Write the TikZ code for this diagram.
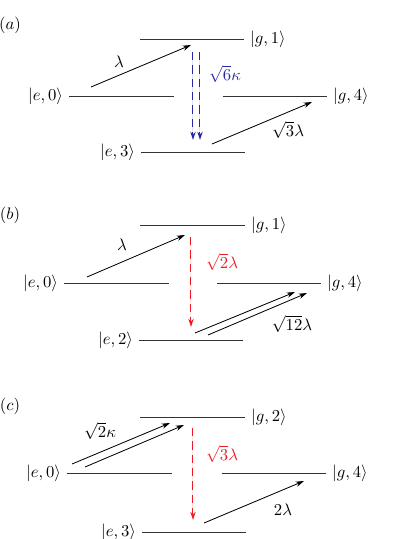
\documentclass[tikz,border=0pt]{standalone}
\usetikzlibrary{arrows.meta}
\definecolor{decayblue}{RGB}{40,40,165}
\definecolor{decayred}{RGB}{237,28,36}
\makeatletter
\newcommand\enlevel{}
\newcommand\enlevel@aux{}
\newcommand\enlevel@noaux{}
\def\enlevel{%
  \@ifnextchar[\enlevel@aux\enlevel@noaux
}
\def\enlevel@noaux{%
  \enlevel@aux[right]%
}
\def\enlevel@aux[#1]#2#3#4#5#6{%
  \coordinate (#2-l) at (#3,#5);
  \coordinate (#2-r) at (#4,#5);
  \draw[level] (#2-l) -- (#2-r);
  \def\temp@side{#1}\def\temp@left{left}%
  \ifx\temp@side\temp@left
    \node[left,inner sep=3.5pt] (#2-lab) at (#2-l) {#6};
  \else
    \node[right,inner sep=3.5pt] (#2-lab) at (#2-r) {#6};
  \fi
}
\makeatother

\begin{document}
\begin{tikzpicture}[
  x=0.6pt,
  y=-0.6pt,
  level/.style={
    line width=0.6pt,
    black!80
  },
  trans/.style={
    line width=0.5pt,
    -{Stealth[length=5pt,width=3.2pt]}
  },
  decay/.style={
    trans,
    line width=0.6pt,
    dash pattern=on 5pt off 3pt
  }
]
  \useasboundingbox (0,0) rectangle (415,539);

  \foreach \t/\y in {a/25,b/215,c/406}{
    \node (tag-\t) at (10,\y) {$(\t)$};
  }

  % (a)
  \enlevel{a-g1}{140}{244}{39}{$|g,1\rangle$}
  \enlevel[left]{a-e0}{69}{174}{96}{$|e,0\rangle$}
  \enlevel{a-g4}{223}{327}{96}{$|g,4\rangle$}
  \enlevel[left]{a-e3}{141}{245}{152}{$|e,3\rangle$}

  \coordinate (a-s1) at (91,87);
  \coordinate (a-t1) at (191,45);
  \draw[trans] (a-s1) -- (a-t1);
  \node (a-lam) at (119,62) {$\lambda$};

  \foreach \x in {193,200}{
    \coordinate (a-ds\x) at (\x,52);
    \coordinate (a-dt\x) at (\x,140);
    \draw[decay,draw=decayblue,fill=decayblue] (a-ds\x) -- (a-dt\x);
  }
  \node[text=decayblue] (a-kap) at (225,74) {$\sqrt{6}\kappa$};

  \coordinate (a-s2) at (212,144);
  \coordinate (a-t2) at (312,102);
  \draw[trans] (a-s2) -- (a-t2);
  \node (a-lam3) at (288,130) {$\sqrt{3}\lambda$};

  % (b)
  \enlevel{b-g1}{140}{245}{225}{$|g,1\rangle$}
  \enlevel[left]{b-e0}{64}{169}{283}{$|e,0\rangle$}
  \enlevel{b-g4}{217}{321}{283}{$|g,4\rangle$}
  \enlevel[left]{b-e2}{139}{243}{340}{$|e,2\rangle$}

  \coordinate (b-s1) at (87,277);
  \coordinate (b-t1) at (185,235);
  \draw[trans] (b-s1) -- (b-t1);
  \node (b-lam) at (122,245) {$\lambda$};

  \coordinate (b-ds) at (191,237);
  \coordinate (b-dt) at (191,327);
  \draw[decay,draw=decayred,fill=decayred] (b-ds) -- (b-dt);
  \node[text=decayred] (b-lam2) at (222,262) {$\sqrt{2}\lambda$};

  \coordinate (b-s2) at (195,333);
  \coordinate (b-t2) at (295,292);
  \coordinate (b-s3) at (208,335);
  \coordinate (b-t3) at (307,293);
  \draw[trans] (b-s2) -- (b-t2);
  \draw[trans] (b-s3) -- (b-t3);
  \node (b-lam12) at (292,324) {$\sqrt{12}\lambda$};

  % (c)
  \enlevel{c-g2}{140}{245}{417}{$|g,2\rangle$}
  \enlevel[left]{c-e0}{67}{172}{473}{$|e,0\rangle$}
  \enlevel{c-g4}{222}{326}{473}{$|g,4\rangle$}
  \enlevel[left]{c-e3}{142}{246}{532}{$|e,3\rangle$}

  \coordinate (c-s1) at (72,464);
  \coordinate (c-t1) at (170,423);
  \coordinate (c-s2) at (85,467);
  \coordinate (c-t2) at (184,425);
  \draw[trans] (c-s1) -- (c-t1);
  \draw[trans] (c-s2) -- (c-t2);
  \node (c-kap) at (100,431) {$\sqrt{2}\kappa$};

  \coordinate (c-ds) at (193,428);
  \coordinate (c-dt) at (193,520);
  \draw[decay,draw=decayred,fill=decayred] (c-ds) -- (c-dt);
  \node[text=decayred] (c-lam3) at (222,454) {$\sqrt{3}\lambda$};

  \coordinate (c-s3) at (204,523);
  \coordinate (c-t3) at (304,481);
  \draw[trans] (c-s3) -- (c-t3);
  \node (c-lam2) at (283,510) {$2\lambda$};
\end{tikzpicture}
\end{document}
